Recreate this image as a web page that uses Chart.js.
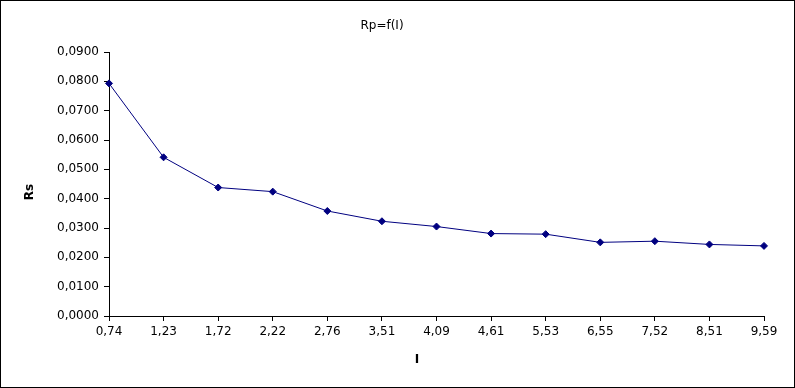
<!DOCTYPE html>
<html>
<head>
<meta charset="utf-8">
<script src="https://cdn.jsdelivr.net/npm/chart.js@4/dist/chart.umd.min.js"></script>
<style>
html,body{margin:0;padding:0;background:#fff;}
canvas{display:block;}
</style>
</head>
<body>
<canvas id="c" width="795" height="388"></canvas>
<script>
const categories = ["0,74","1,23","1,72","2,22","2,76","3,51","4,09","4,61","5,53","6,55","7,52","8,51","9,59"];
const rsValues = [0.0793,0.0541,0.0438,0.0424,0.0358,0.0323,0.0305,0.0281,0.0279,0.0251,0.0255,0.0244,0.0239];
const yTickMin = 0, yTickMax = 0.09, yTickStep = 0.01;
const chartTitle = "Rp=f(I)";
const xTitle = "I";
const yTitle = "Rs";

const FONT = "'DejaVu Sans', sans-serif";

const decor = {
  id: 'decor',
  afterDraw(chart) {
    const ctx = chart.ctx;
    ctx.save();
    ctx.strokeStyle = '#000';
    ctx.lineWidth = 1;
    ctx.strokeRect(0.5, 0.5, chart.width - 1, chart.height - 1);
    ctx.fillStyle = '#000';
    ctx.font = "bold 12px " + FONT;
    ctx.textAlign = 'center';
    ctx.textBaseline = 'middle';
    ctx.fillText(xTitle, 417, 360);
    ctx.translate(30, 192);
    ctx.rotate(-Math.PI / 2);
    ctx.fillText(yTitle, 0, 0);
    ctx.restore();
  }
};

new Chart(document.getElementById('c'), {
  type: 'line',
  data: {
    labels: categories,
    datasets: [{
      data: rsValues,
      borderColor: '#000080',
      backgroundColor: '#000080',
      borderWidth: 1,
      tension: 0,
      pointStyle: 'rectRot',
      pointRadius: 3.5,
      pointBorderWidth: 1,
      pointBackgroundColor: '#000080',
      pointBorderColor: '#000080'
    }]
  },
  options: {
    responsive: false,
    animation: false,
    devicePixelRatio: 1,
    layout: { padding: { left: 0, right: 31, top: 0, bottom: 0 } },
    plugins: {
      legend: { display: false },
      tooltip: { enabled: false },
      title: {
        display: true,
        text: chartTitle,
        color: '#000',
        font: { family: FONT, size: 12, weight: 'normal', lineHeight: 1.2 },
        padding: { top: 19, bottom: 18.6 }
      }
    },
    scales: {
      x: {
        type: 'category',
        offset: false,
        afterFit(s) { s.height = 72; },
        border: { display: true, color: '#000', width: 1 },
        grid: { display: true, drawOnChartArea: false, drawTicks: true, tickLength: 5, color: '#000' },
        ticks: { color: '#000', font: { family: FONT, size: 12 }, padding: 4, maxRotation: 0, autoSkip: false }
      },
      y: {
        min: yTickMin,
        max: yTickMax,
        afterFit(s) { s.width = 109; },
        border: { display: true, color: '#000', width: 1 },
        grid: { display: true, drawOnChartArea: false, drawTicks: true, tickLength: 5, color: '#000' },
        ticks: {
          stepSize: yTickStep,
          color: '#000',
          font: { family: FONT, size: 12 },
          padding: 5,
          callback: v => v.toFixed(4).replace('.', ',')
        }
      }
    }
  },
  plugins: [decor]
});
</script>
</body>
</html>
